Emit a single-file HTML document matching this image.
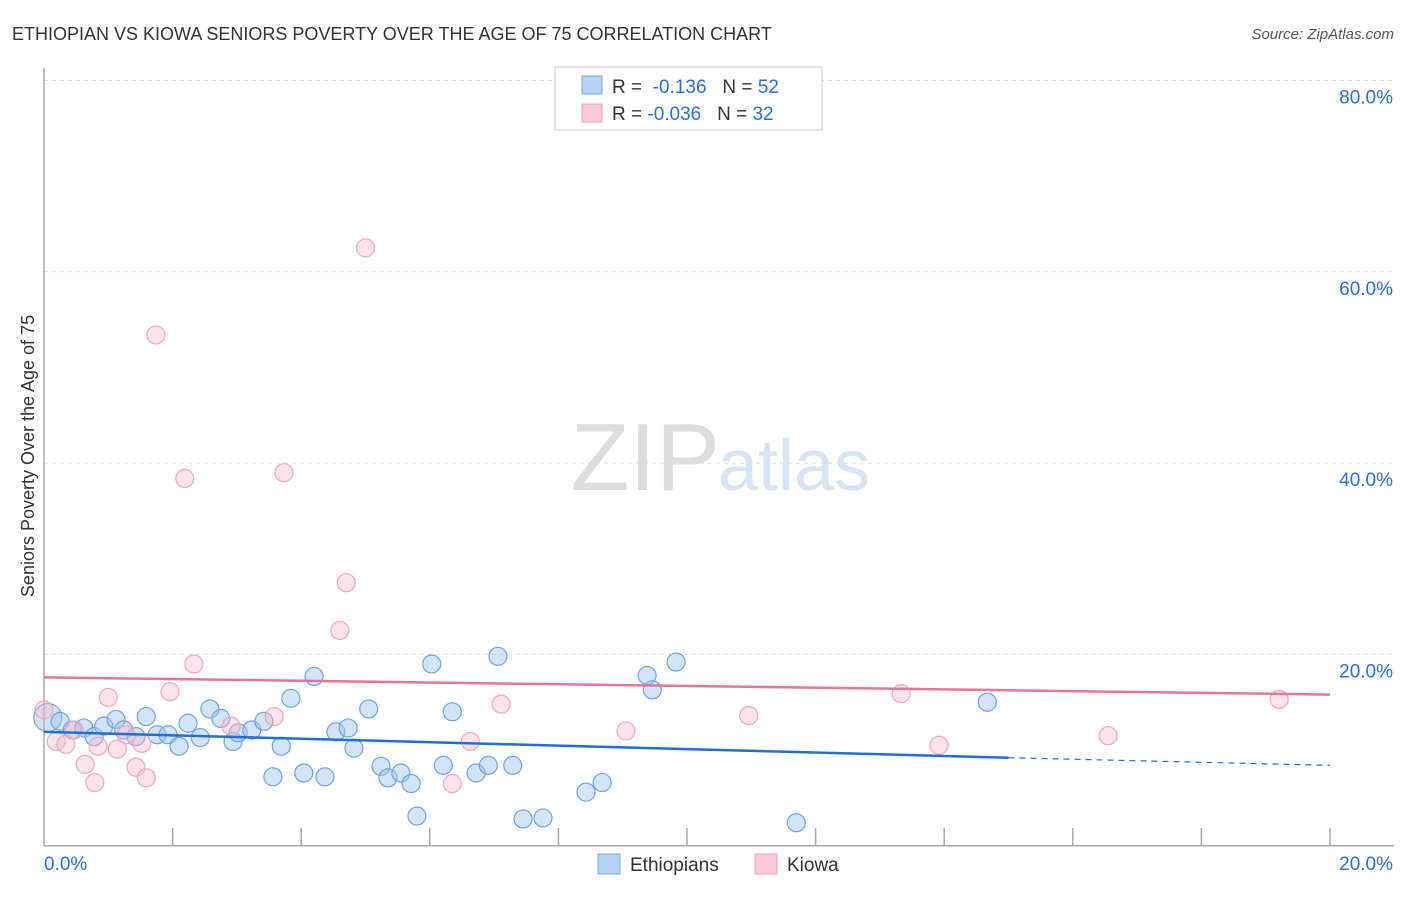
<!DOCTYPE html>
<html><head><meta charset="utf-8"><style>
body{margin:0;background:#fff;font-family:"Liberation Sans",sans-serif;}
svg text{font-family:"Liberation Sans",sans-serif;}
</style></head><body>
<svg id="chart" width="1406" height="892" xmlns="http://www.w3.org/2000/svg">
<text x="12" y="40" font-size="18" fill="#333">ETHIOPIAN VS KIOWA SENIORS POVERTY OVER THE AGE OF 75 CORRELATION CHART</text>
<text x="1394" y="39" font-size="15" fill="#555" text-anchor="end" font-style="italic">Source: ZipAtlas.com</text>
<text x="720" y="490" font-size="96" fill="#ddd" text-anchor="end" font-family="Liberation Serif">ZIP</text>
<text x="718" y="490" font-size="72" fill="#d6e4f6">atlas</text>
<g id="grid"></g><g id="axes"></g><g id="pts"></g><g id="lines"></g>
<text transform="translate(34,456) rotate(-90)" font-size="18" fill="#333" text-anchor="middle">Seniors Poverty Over the Age of 75</text>
<g>
<rect x="555" y="67" width="267" height="63" fill="#fff" stroke="#ccc"/>
<rect x="582" y="76" width="20" height="18" fill="#b7d2f5" stroke="#7aa8e6"/>
<rect x="582" y="104" width="20" height="18" fill="#fbc9d8" stroke="#f0a0b8"/>
<text x="612" y="93" font-size="19" fill="#333">R = <tspan fill="#2a6fd6">&#160;-0.136</tspan>&#160;&#160;&#160;N = <tspan fill="#2a6fd6">52</tspan></text>
<text x="612" y="120" font-size="19" fill="#333">R = <tspan fill="#2a6fd6">-0.036</tspan>&#160;&#160;&#160;N = <tspan fill="#2a6fd6">32</tspan></text>
</g>
<g>
<rect x="598" y="854" width="22" height="20" fill="#b7d2f5" stroke="#7aa8e6"/>
<text x="630" y="871" font-size="19" fill="#333">Ethiopians</text>
<rect x="755" y="854" width="22" height="20" fill="#fbc9d8" stroke="#f0a0b8"/>
<text x="787" y="871" font-size="19" fill="#333">Kiowa</text>
</g>
</svg>
<script>
const ethX=[0.06,0.25,0.44,0.62,0.78,0.93,1.12,1.24,1.43,1.59,1.76,1.93,2.10,2.24,2.43,2.58,2.75,2.94,3.02,3.23,3.42,3.56,3.69,3.84,4.04,4.20,4.37,4.54,4.73,4.82,5.05,5.24,5.35,5.55,5.71,5.80,6.03,6.21,6.35,6.72,6.91,7.06,7.29,7.45,7.76,8.43,8.68,9.38,9.46,9.83,11.70,14.67];
const ethY=[13.4,13.0,12.1,12.3,11.4,12.5,13.2,12.1,11.4,13.5,11.6,11.6,10.4,12.8,11.3,14.3,13.3,10.9,11.8,12.1,13.0,7.2,10.4,15.4,7.6,17.7,7.2,11.9,12.3,10.2,14.3,8.3,7.1,7.6,6.5,3.1,19.0,8.4,14.0,7.6,8.4,19.8,8.4,2.8,2.9,5.6,6.6,17.8,16.3,19.2,2.4,15.0];
const kioX=[0.0,0.19,0.34,0.47,0.64,0.79,0.84,1.00,1.14,1.28,1.43,1.52,1.59,1.74,1.96,2.19,2.33,2.91,3.58,3.73,4.60,4.70,5.00,6.35,6.63,7.11,9.05,10.96,13.33,13.92,16.55,19.21];
const kioY=[14.2,10.9,10.6,12.1,8.5,6.6,10.4,15.5,10.1,11.6,8.2,10.7,7.1,53.4,16.1,38.4,19.0,12.5,13.5,39.0,22.5,27.5,62.5,6.5,10.9,14.8,12.0,13.6,15.9,10.5,11.5,15.3];
const ethTrend=[11.9,9.2,8.4]; // at x=0, 15, 20
const kioTrend=[17.6,15.8];   // at x=0, 20
const yTicks=[20,40,60,80];
const xTickLabels=["0.0%","20.0%"];
const NS="http://www.w3.org/2000/svg";
const X0=44,X1=1330,Y0=845.7,PPY=9.565;
const sx=v=>X0+(X1-X0)*v/20, sy=v=>Y0-v*PPY;
function mk(tag,attrs,parent){const e=document.createElementNS(NS,tag);for(const k in attrs)e.setAttribute(k,attrs[k]);document.getElementById(parent).appendChild(e);return e;}
yTicks.forEach(t=>{
 const g=mk('line',{x1:X0,x2:1394,y1:sy(t),y2:sy(t),stroke:'#ddd','stroke-dasharray':'4,4'},'grid');
 
 
 const l=mk('text',{x:1393,y:sy(t)+23,'font-size':19,fill:'#2a6fd6','text-anchor':'end'},'grid');
 l.textContent=t.toFixed(1)+'%';
 
 
});
const ax=mk('line',{x1:X0,x2:X0,y1:68,y2:Y0,stroke:'#aaa','stroke-width':1.5},'axes');


const bx=mk('line',{x1:X0,x2:X1+64,y1:Y0,y2:Y0,stroke:'#aaa','stroke-width':1.5},'axes');


for(let i=1;i<=10;i++){const v=i*2;const t=mk('line',{x1:sx(v),x2:sx(v),y1:828,y2:Y0,stroke:'#aaa','stroke-width':1.5},'axes');
 
 }
[[0,'start'],[20,'end']].forEach((p,i)=>{const t=mk('text',{x:sx(p[0])+(i?63:0),y:870,'font-size':19,fill:'#2a6fd6','text-anchor':p[1]},'axes');t.textContent=xTickLabels[i];
 
 });
ethX.forEach((x,i)=>{const c=mk('circle',{cx:sx(x),cy:sy(ethY[i]),r:i==0?14:9,fill:'rgba(160,196,240,0.45)',stroke:'#6fa3e6','stroke-width':1.2},'pts');
 
 });
kioX.forEach((x,i)=>{const c=mk('circle',{cx:sx(x),cy:sy(kioY[i]),r:9,fill:'rgba(248,184,204,0.4)',stroke:'#f0a8be','stroke-width':1.2},'pts');
 
 });
let l1=mk('line',{x1:sx(0),y1:sy(ethTrend[0]),x2:sx(15),y2:sy(ethTrend[1]),stroke:'#1f6fd6','stroke-width':2.5},'lines');


let l2=mk('line',{x1:sx(15),y1:sy(ethTrend[1]),x2:sx(20),y2:sy(ethTrend[2]),stroke:'#1f6fd6','stroke-width':1.2,'stroke-dasharray':'6,5'},'lines');


let l3=mk('line',{x1:sx(0),y1:sy(kioTrend[0]),x2:sx(20),y2:sy(kioTrend[1]),stroke:'#e8739a','stroke-width':2.5},'lines');


</script>
</body></html>
